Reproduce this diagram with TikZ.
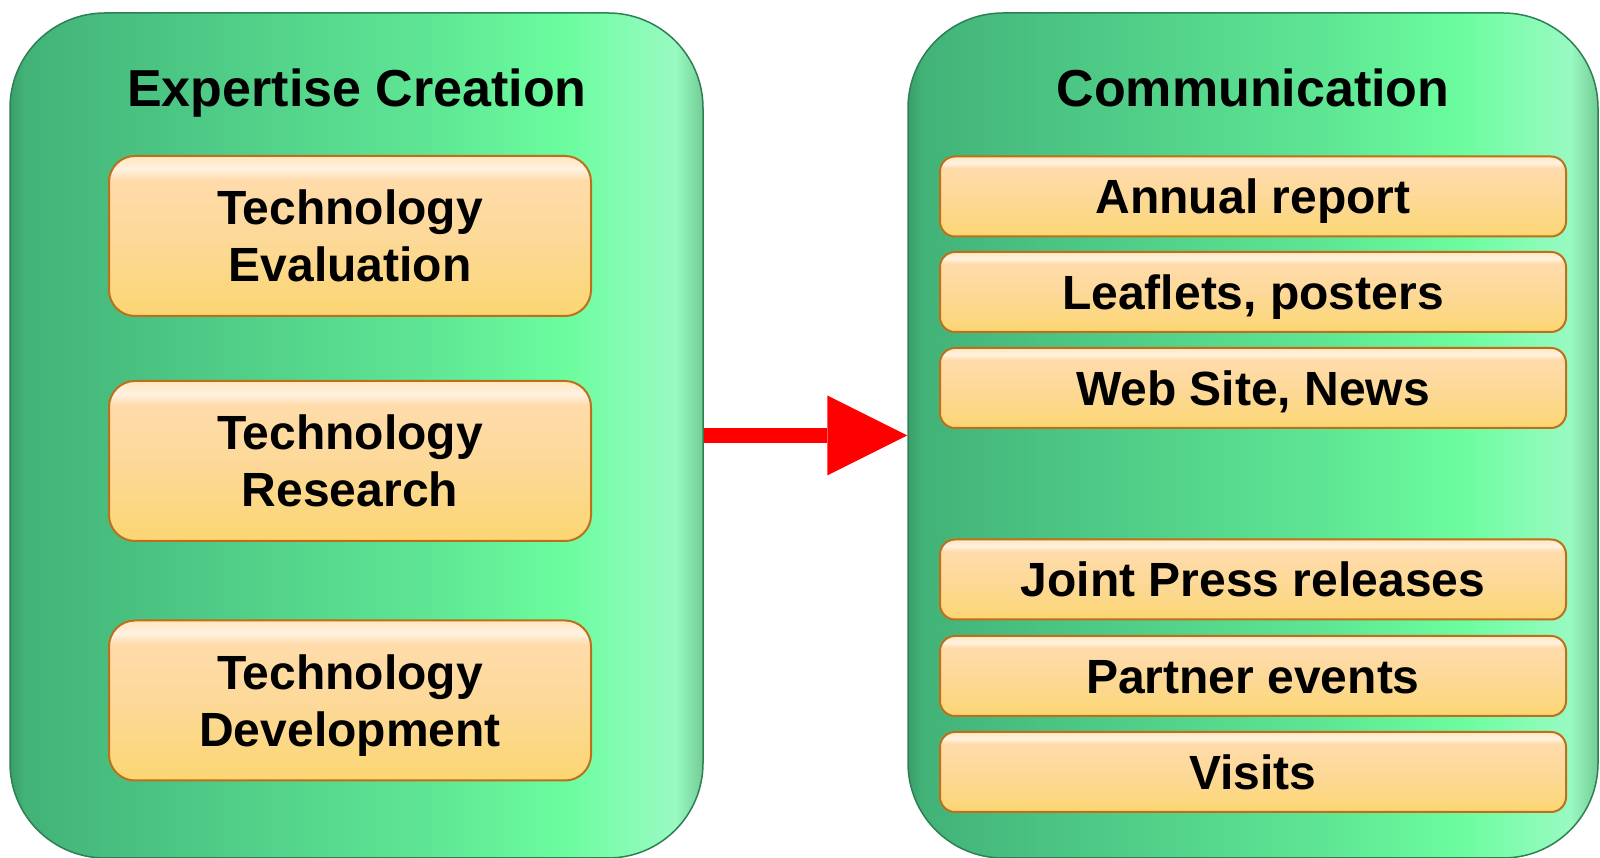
\documentclass[tikz,border=0pt]{standalone}
\usepackage{fontspec}
\setmainfont{Liberation Sans}
\usetikzlibrary{arrows.meta}
\definecolor{panelrim}{rgb}{0.18,0.50,0.33}
\definecolor{tagrim}{rgb}{0.74,0.44,0.10}
\definecolor{arrowred}{rgb}{1,0,0}
\pgfdeclarehorizontalshading{greenpanel}{100bp}{rgb(0bp)=(0.22,0.62,0.42); rgb(25bp)=(0.22,0.62,0.42); rgb(26bp)=(0.26,0.70,0.47); rgb(40bp)=(0.31,0.80,0.53); rgb(55bp)=(0.37,0.90,0.58); rgb(65bp)=(0.42,0.99,0.62); rgb(73bp)=(0.60,0.98,0.76); rgb(75bp)=(0.45,0.80,0.58); rgb(100bp)=(0.45,0.80,0.58)}
\pgfdeclareverticalshading{orangebox}{100bp}{rgb(0bp)=(0.99,0.84,0.45); rgb(25bp)=(0.99,0.84,0.45); rgb(50bp)=(0.99,0.85,0.60); rgb(67.5bp)=(1,0.86,0.67); rgb(71bp)=(1,0.95,0.88); rgb(75bp)=(1,0.90,0.75); rgb(100bp)=(1,0.90,0.75)}
\tikzset{
  panel/.style={draw=panelrim, line width=1.5pt, shade, shading=greenpanel, rounded corners=95pt, minimum height=845pt, inner sep=0pt},
  paneltitle/.style={font=\fontsize{52}{60}\selectfont\bfseries, anchor=base, inner sep=0pt},
  tag/.style={draw=tagrim, line width=2pt, shade, shading=orangebox, inner sep=0pt, align=center, font=\fontsize{48}{57}\selectfont\bfseries},
  lefttag/.style={tag, rounded corners=26pt, minimum width=482pt, minimum height=160pt},
  righttag/.style={tag, rounded corners=15pt, minimum width=626pt, minimum height=80pt, text height=35pt, text depth=0pt},
  flow/.style={arrowred, line width=15pt, -{Triangle[length=80pt,width=80pt,line width=0pt]}}
}
\begin{document}
\begin{tikzpicture}[x=1pt,y=1pt]
\useasboundingbox (0,0) rectangle (1600,858);
\node[panel, minimum width=693pt] (L) at (356.5,422.5) {};
\node[panel, minimum width=690pt] (R) at (1253,422.5) {};
\node[paneltitle] (LT) at (357,751) {Expertise Creation};
\node[paneltitle] (RT) at (1253,751) {Communication};
\node[lefttag] (e1) at (350,622) {Technology\\Evaluation};
\node[lefttag] (e2) at (350,397) {Technology\\Research};
\node[lefttag, text depth=0pt] (e3) at (350,157.5) {Technology\\Development};
\node[righttag] (c1) at (1253,661.5) {Annual report};
\node[righttag] (c2) at (1253,566) {Leaflets, posters};
\node[righttag] (c3) at (1253,470) {Web Site, News};
\node[righttag] (c4) at (1253,278.5) {Joint Press releases};
\node[righttag] (c5) at (1253,182) {Partner events};
\node[righttag] (c6) at (1253,86) {Visits};
\draw[flow] (L.east) -- (R.west);
\end{tikzpicture}
\end{document}
